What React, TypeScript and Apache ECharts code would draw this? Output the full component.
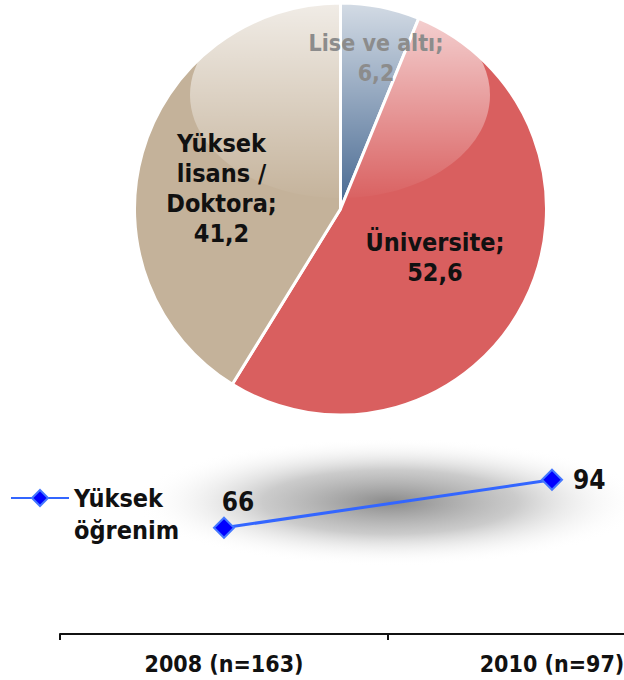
import React, { useEffect, useRef } from "react";
import * as echarts from "echarts";

// Pie data
const pieNames = ["Lise ve altı", "Üniversite", "Yüksek\nlisans /\nDoktora"];
const pieValues = [6.2, 52.6, 41.2];
const pieColors = ["#4a6b93", "#d95f5f", "#c4b29a"];
const pieLabelColors = ["#8c8c8c", "#111111", "#111111"];
const pieLabelSizes = [23, 25, 25];
const pieLabelShift = [
  [15, -47],
  [0, 0],
  [-17, 8],
];

// Line data
const years = ["2008 (n=163)", "2010 (n=97)"];
const lineName = "Yüksek öğrenim";
const lineValues = [66, 94];

const FONT = "'DejaVu Sans Condensed', 'DejaVu Sans', Verdana, sans-serif";

export default function App() {
  const ref = useRef<HTMLDivElement>(null);

  useEffect(() => {
    if (!ref.current) return;
    const chart = echarts.init(ref.current, undefined, { renderer: "svg" });

    const fmt = (v: number) => String(v).replace(".", ",");

    const option: any = {
      animation: false,
      backgroundColor: "#ffffff",
      textStyle: { fontFamily: FONT },
      legend: {
        data: [lineName],
        left: 5,
        top: 445,
        itemWidth: 58,
        itemHeight: 20,
        formatter: (n: string) => "\n" + n.replace(" ", "\n"),
        textStyle: {
          fontFamily: FONT,
          fontSize: 25,
          fontWeight: "bold",
          color: "#111",
          lineHeight: 32,
        },
      },
      grid: {
        left: 60,
        top: 469.5,
        width: 656,
        height: 164.5,
        containLabel: false,
        outerBoundsMode: "none",
      },
      xAxis: {
        type: "category",
        data: years,
        boundaryGap: true,
        axisLine: { lineStyle: { color: "#111", width: 2 } },
        axisTick: { show: true, length: 6, lineStyle: { color: "#111", width: 2 } },
        axisLabel: {
          fontFamily: FONT,
          fontSize: 23,
          fontWeight: "bold",
          color: "#111",
          margin: 18,
        },
        splitLine: { show: false },
      },
      yAxis: {
        type: "value",
        min: 4,
        max: 100,
        show: false,
      },
      graphic: [
        {
          type: "ellipse",
          silent: true,
          z: 0,
          shape: { cx: 390, cy: 502, rx: 255, ry: 64 },
          style: {
            fill: new echarts.graphic.RadialGradient(0.5, 0.5, 0.5, [
              { offset: 0, color: "rgba(100,100,100,0.75)" },
              { offset: 0.5, color: "rgba(140,140,140,0.45)" },
              { offset: 1, color: "rgba(255,255,255,0)" },
            ]),
          },
        },
        {
          type: "ellipse",
          silent: true,
          z: 5,
          shape: { cx: 340, cy: 95, rx: 150, ry: 103 },
          style: {
            fill: new echarts.graphic.LinearGradient(0, 0, 0, 1, [
              { offset: 0, color: "rgba(255,255,255,0.8)" },
              { offset: 0.45, color: "rgba(255,255,255,0.45)" },
              { offset: 1, color: "rgba(255,255,255,0.02)" },
            ]),
          },
        },
      ],
      series: [
        {
          type: "pie",
          z: 1,
          center: [340.5, 209],
          radius: 206,
          startAngle: 90,
          clockwise: true,
          silent: true,
          itemStyle: { borderColor: "#ffffff", borderWidth: 3 },
          label: { show: false },
          labelLine: { show: false },
          emphasis: { disabled: true },
          data: pieNames.map((n, i) => ({
            name: n,
            value: pieValues[i],
            itemStyle: { color: pieColors[i] },
          })),
        },
        {
          type: "pie",
          z: 10,
          center: [340.5, 209],
          radius: 206,
          startAngle: 90,
          clockwise: true,
          silent: true,
          itemStyle: { color: "rgba(0,0,0,0)", borderWidth: 0 },
          label: {
            show: true,
            position: "inside",
            fontFamily: FONT,
            fontSize: 25,
            fontWeight: "bold",
            lineHeight: 30,
            align: "center",
            formatter: (p: any) => `${p.name};\n${fmt(p.value)}`,
          },
          labelLayout: (p: any) => ({
            dx: pieLabelShift[p.dataIndex][0],
            dy: pieLabelShift[p.dataIndex][1],
          }),
          labelLine: { show: false },
          emphasis: { disabled: true },
          data: pieNames.map((n, i) => ({
            name: n,
            value: pieValues[i],
            itemStyle: { color: "rgba(0,0,0,0)" },
            label: { color: pieLabelColors[i], fontSize: pieLabelSizes[i] },
          })),
        },
        {
          type: "line",
          name: lineName,
          z: 3,
          data: [
            { value: lineValues[0], label: { position: "top", offset: [14, 3] } },
            { value: lineValues[1], label: { position: "right", distance: 10 } },
          ],
          symbol: "diamond",
          symbolSize: 20,
          lineStyle: { color: "#3366ff", width: 3 },
          itemStyle: { color: "#0000ff", borderColor: "#4477ff", borderWidth: 2 },
          label: {
            show: true,
            fontFamily: FONT,
            fontSize: 26,
            fontWeight: "bold",
            color: "#111",
          },
          emphasis: { disabled: true },
        },
      ],
    };

    chart.setOption(option);
    return () => chart.dispose();
  }, []);

  return (
    <div
      ref={ref}
      style={{ position: "absolute", left: 0, top: 0, width: 624, height: 680 }}
    />
  );
}
